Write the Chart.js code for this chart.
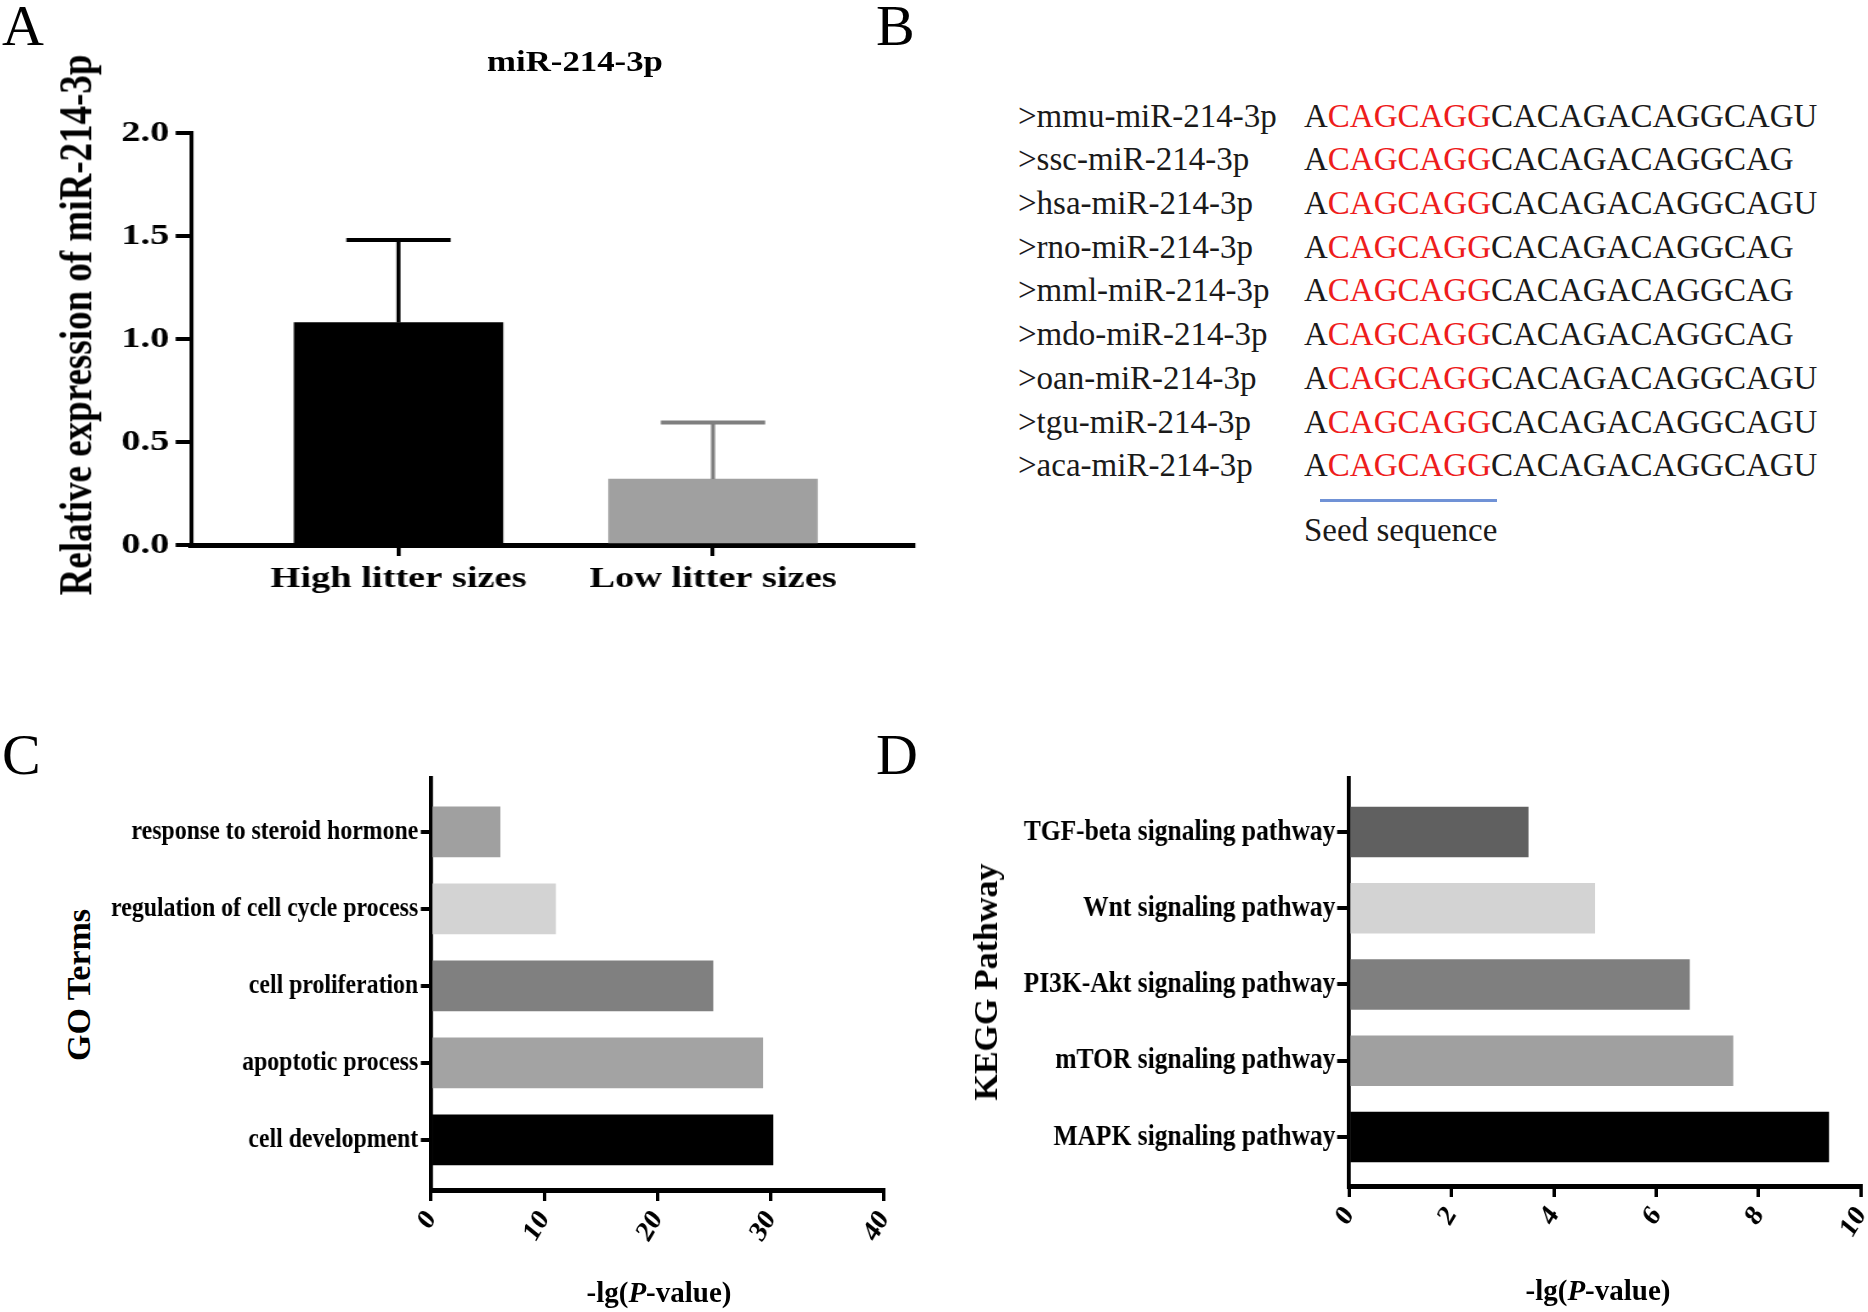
<!DOCTYPE html>
<html>
<head>
<meta charset="utf-8">
<script src="https://cdn.jsdelivr.net/npm/chart.js@4.4.1/dist/chart.umd.min.js"></script>
<style>
  html, body { margin: 0; padding: 0; background: #fff; overflow: hidden; }
  body { width: 1868px; height: 1312px; position: relative; font-family: "Liberation Serif", "Times New Roman", serif; color: #000; }
  .abs { position: absolute; white-space: nowrap; }
  .letter { font-size: 58px; line-height: 58px; }
  .panel { position: absolute; transform-origin: 0 0; }
  .panel canvas { position: absolute; left: 0; top: 0; }
  .center { transform: translate(-50%, -50%); line-height: 1; }
  .vtitle { transform: translate(-50%, -50%) rotate(-90deg); line-height: 1; font-weight: bold; }
  .seq { font-size: 33px; line-height: 43.7px; color: #1a1a1a; }
  .seq .red { color: #ee1c1c; }
  .xtitle { font-size: 29px; font-weight: bold; }
</style>
</head>
<body>

<div class="abs letter" style="left:2px; top:-3px;">A</div>
<div class="abs letter" style="left:876px; top:-3px;">B</div>
<div class="abs letter" style="left:2px; top:726px;">C</div>
<div class="abs letter" style="left:876px; top:726px;">D</div>

<!-- panel A: the source figure is stretched sideways, so this one is too -->
<div class="panel" style="left:0; top:0; width:740px; height:620px; transform:scaleX(1.28);">
  <canvas id="chartA" width="740" height="620"></canvas>
  <div class="abs vtitle" style="left:59px; top:325px; font-size:37px;">Relative expression of miR-214-3p</div>
</div>
<div class="abs" style="left:575px; top:61px; font-size:30px; font-weight:bold; line-height:1; transform:translate(-50%, -50%) scaleX(1.16);">miR-214-3p</div>

<!-- panel B -->
<div id="names" class="abs seq" style="left:1018px; top:94.6px;"></div>
<div id="seqs" class="abs seq" style="left:1304px; top:94.6px;"></div>
<div class="abs" style="left:1320px; top:499px; width:177px; height:3px; background:#7092d6;"></div>
<div class="abs seq" style="left:1304px; top:508px; line-height:44px;">Seed sequence</div>

<!-- panels C and D: squeezed sideways like the source -->
<div class="panel" style="left:100px; top:720px; width:960px; height:592px; transform:scaleX(0.85);">
  <canvas id="chartC" width="960" height="592"></canvas>
</div>
<div class="abs vtitle" style="left:79px; top:985px; font-size:34px;">GO Terms</div>
<div class="abs center xtitle" style="left:659px; top:1292px;">-lg(<i>P</i>-value)</div>

<div class="panel" style="left:1000px; top:720px; width:1030px; height:592px; transform:scaleX(0.85);">
  <canvas id="chartD" width="1030" height="592"></canvas>
</div>
<div class="abs vtitle" style="left:986px; top:982px; font-size:34px;">KEGG Pathway</div>
<div class="abs center xtitle" style="left:1598px; top:1290px;">-lg(<i>P</i>-value)</div>

<script>
// panel A
const aCategories = ['High litter sizes', 'Low litter sizes']
const aValues = [1.08, 0.32]
const aErrors = [0.40, 0.275]
const aYTicks = [0, 0.5, 1, 1.5, 2]

// panel B
const seqNames = [
  '>mmu-miR-214-3p', '>ssc-miR-214-3p', '>hsa-miR-214-3p', '>rno-miR-214-3p', '>mml-miR-214-3p',
  '>mdo-miR-214-3p', '>oan-miR-214-3p', '>tgu-miR-214-3p', '>aca-miR-214-3p',
]
const seqs = [
  'ACAGCAGGCACAGACAGGCAGU', 'ACAGCAGGCACAGACAGGCAG', 'ACAGCAGGCACAGACAGGCAGU',
  'ACAGCAGGCACAGACAGGCAG', 'ACAGCAGGCACAGACAGGCAG', 'ACAGCAGGCACAGACAGGCAG',
  'ACAGCAGGCACAGACAGGCAGU', 'ACAGCAGGCACAGACAGGCAGU', 'ACAGCAGGCACAGACAGGCAGU',
]

// panel C
const goTerms = ['response to steroid hormone', 'regulation of cell cycle process', 'cell proliferation', 'apoptotic process', 'cell development']
const goValues = [6.1, 11.0, 24.9, 29.3, 30.2]
const goTicks = [0, 10, 20, 30, 40]

// panel D
const keggPathways = ['TGF-beta signaling pathway', 'Wnt signaling pathway', 'PI3K-Akt signaling pathway', 'mTOR signaling pathway', 'MAPK signaling pathway']
const keggValues = [3.5, 4.8, 6.65, 7.5, 9.37]
const keggTicks = [0, 2, 4, 6, 8, 10]

Chart.defaults.font.family = '"Liberation Serif", "Times New Roman", serif'
Chart.defaults.color = '#000'

// sequence alignment text
document.getElementById('names').innerHTML = seqNames
  .map(n => n.replace('>', '&gt;'))
  .join('<br>')
document.getElementById('seqs').innerHTML = seqs
  .map(s => s[0] + '<span class="red">' + s.slice(1, 8) + '</span>' + s.slice(8))
  .join('<br>')

const errorBars = {
  id: 'errorBars',
  afterDatasetsDraw(chart, args, opts) {
    const meta = chart.getDatasetMeta(0)
    const yScale = chart.scales.y
    const ctx = chart.ctx
    ctx.save()
    meta.data.forEach((bar, i) => {
      const top = yScale.getPixelForValue(aValues[i] + aErrors[i])
      const half = bar.width / 4
      ctx.strokeStyle = opts.colors[i]
      ctx.lineWidth = 3.1
      ctx.beginPath()
      ctx.moveTo(bar.x, bar.y)
      ctx.lineTo(bar.x, top)
      ctx.stroke()
      ctx.lineWidth = 4
      ctx.beginPath()
      ctx.moveTo(bar.x - half, top)
      ctx.lineTo(bar.x + half, top)
      ctx.stroke()
    })
    ctx.restore()
  },
}

new Chart(document.getElementById('chartA'), {
  type: 'bar',
  data: {
    datasets: [
      {
        data: aValues.map((v, i) => ({ x: i, y: v })),
        backgroundColor: ['#000000', '#a0a0a0'],
        barThickness: 163,
      },
    ],
  },
  options: {
    responsive: false,
    devicePixelRatio: 1,
    animation: false,
    layout: { padding: { left: 0, top: 133, right: 26, bottom: 15 } },
    plugins: {
      legend: { display: false },
      tooltip: { enabled: false },
      errorBars: { colors: ['#000000', '#7f7f7f'] },
    },
    scales: {
      x: {
        type: 'linear',
        offset: false,
        min: -0.66,
        max: 1.639,
        afterBuildTicks: s => { s.ticks = aCategories.map((_, i) => ({ value: i })) },
        afterFit: s => { s.height = 60; s.paddingLeft = 0; s.paddingRight = 0 },
        ticks: {
          autoSkip: false,
          maxRotation: 0,
          padding: 5,
          font: { size: 30, weight: 'bold' },
          callback: v => aCategories[v],
        },
        grid: { offset: false, drawOnChartArea: false, tickLength: 11, lineWidth: 3.1, color: '#000' },
        border: { color: '#000', width: 5 },
      },
      y: {
        min: 0,
        max: 2,
        afterBuildTicks: s => { s.ticks = aYTicks.map(v => ({ value: v })) },
        afterFit: s => { s.width = 149.2; s.paddingTop = 0; s.paddingBottom = 0 },
        ticks: {
          padding: 5,
          font: { size: 30, weight: 'bold' },
          callback: v => v.toFixed(1),
        },
        grid: { drawOnChartArea: false, tickLength: 12, lineWidth: 4, color: '#000' },
        border: { color: '#000', width: 3.1 },
      },
    },
  },
  plugins: [errorBars],
})

function hbarChart(id, labels, values, ticks, colors, g) {
  return new Chart(document.getElementById(id), {
    type: 'bar',
    data: {
      datasets: [
        {
          data: values.map((v, i) => ({ x: v, y: i })),
          backgroundColor: colors,
          barThickness: 50,
        },
      ],
    },
    options: {
      indexAxis: 'y',
      responsive: false,
      devicePixelRatio: 1,
      animation: false,
      layout: { padding: { left: 0, top: g.top, right: g.right, bottom: g.bottom } },
      plugins: { legend: { display: false }, tooltip: { enabled: false } },
      scales: {
        y: {
          type: 'linear',
          offset: false,
          reverse: true,
          min: g.yMin,
          max: g.yMax,
          afterBuildTicks: s => { s.ticks = labels.map((_, i) => ({ value: i })) },
          afterFit: s => { s.width = g.left; s.paddingTop = 0; s.paddingBottom = 0 },
          ticks: {
            autoSkip: false,
            padding: g.labelPad,
            font: { size: g.labelSize, weight: 'bold' },
            callback: v => labels[v],
          },
          grid: { offset: false, drawOnChartArea: false, tickLength: g.tickLen, lineWidth: 4, color: '#000' },
          border: { color: '#000', width: 4.7 },
        },
        x: {
          type: 'linear',
          min: ticks[0],
          max: ticks[ticks.length - 1],
          afterBuildTicks: s => { s.ticks = ticks.map(v => ({ value: v })) },
          afterFit: s => { s.height = g.xHeight; s.paddingLeft = 0; s.paddingRight = 0 },
          ticks: {
            autoSkip: false,
            minRotation: 55,
            maxRotation: 55,
            padding: 3,
            font: { size: 30, weight: 'bold' },
          },
          grid: { drawOnChartArea: false, tickLength: 11, lineWidth: 4, color: '#000' },
          border: { color: '#000', width: 5 },
        },
      },
    },
  })
}

hbarChart('chartC', goTerms, goValues, goTicks,
  ['#a0a0a0', '#d3d3d3', '#808080', '#a3a3a3', '#000000'],
  { top: 58, right: 37.65, bottom: 22, left: 389.4, xHeight: 100, yMin: -0.70, yMax: 4.65, labelPad: 3, labelSize: 28, tickLen: 12 })

hbarChart('chartD', keggPathways, keggValues, keggTicks,
  ['#606060', '#d3d3d3', '#7f7f7f', '#a0a0a0', '#000000'],
  { top: 58, right: 17.06, bottom: 22, left: 410.6, xHeight: 104, yMin: -0.708, yMax: 4.643, labelPad: 2, labelSize: 30, tickLen: 14 })
</script>
</body>
</html>
